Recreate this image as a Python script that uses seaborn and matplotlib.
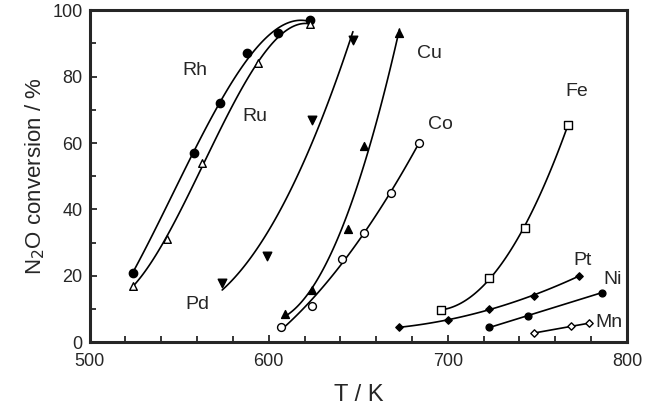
import numpy as np
import pandas as pd
import matplotlib
matplotlib.use("Agg")
import matplotlib.pyplot as plt
import seaborn as sns
from matplotlib.ticker import MultipleLocator

sns.set_style("ticks")
plt.rcParams['font.family'] = ['Liberation Sans', 'DejaVu Sans']

# data
rh_T = [524, 558, 573, 588, 605, 623]
rh_X = [21, 57, 72, 87, 93, 97]
ru_T = [524, 543, 563, 594, 623]
ru_X = [17, 31, 54, 84, 96]
pd_T = [574, 599, 624, 647]
pd_X = [18, 26, 67, 91]
cu_T = [609, 624, 644, 653, 673]
cu_X = [8.5, 15.7, 34, 59, 93]
co_T = [607, 624, 641, 653, 668, 684]
co_X = [4.5, 11, 25, 33, 45, 60]
fe_T = [696, 723, 743, 767]
fe_X = [9.6, 19.5, 34.5, 65.5]
pt_T = [673, 700, 723, 748, 773]
pt_X = [4.5, 6.8, 10, 14, 20]
ni_T = [723, 745, 786]
ni_X = [4.5, 8, 15]
mn_T = [748, 769, 779]
mn_X = [2.8, 4.8, 5.8]

series = [
    ("Rh", rh_T, rh_X, 3, "o", "black", 36),
    ("Ru", ru_T, ru_X, 3, "^", "white", 30),
    ("Pd", pd_T, pd_X, 2, "v", "black", 38),
    ("Cu", cu_T, cu_X, 2, "^", "black", 32),
    ("Co", co_T, co_X, 2, "o", "white", 32),
    ("Fe", fe_T, fe_X, 2, "s", "white", 26),
    ("Pt", pt_T, pt_X, 2, "D", "black", 14),
    ("Ni", ni_T, ni_X, 1, "o", "black", 24),
    ("Mn", mn_T, mn_X, 1, "D", "white", 14),
]

label_names = ["Rh", "Ru", "Pd", "Cu", "Co", "Fe", "Pt", "Ni", "Mn"]
label_T = [559, 592, 560, 690, 696, 772, 775, 792, 790]
label_X = [82, 68, 11.5, 87, 65.5, 75.5, 24.5, 19, 6]

fig = plt.figure(figsize=(6.45, 4.09), dpi=100)
ax = fig.add_axes([0.139, 0.163, 0.833, 0.812])

for name, T, X, order, mk, fc, s in series:
    df = pd.DataFrame({"T": T, "X": X})
    sns.regplot(data=df, x="T", y="X", order=order, ci=None, truncate=True,
                scatter=False, ax=ax, line_kws=dict(color="black", lw=1.2))
    sns.scatterplot(data=df, x="T", y="X", marker=mk, s=s, ax=ax,
                    facecolor=fc, edgecolor="black", linewidth=1.0, zorder=3)

for n, t, x in zip(label_names, label_T, label_X):
    ax.text(t, x, n, fontsize=14, ha="center", va="center")

ax.set_xlim(500, 800)
ax.set_ylim(0, 100)
ax.xaxis.set_major_locator(MultipleLocator(100))
ax.xaxis.set_minor_locator(MultipleLocator(20))
ax.yaxis.set_major_locator(MultipleLocator(20))
ax.yaxis.set_minor_locator(MultipleLocator(10))
ax.tick_params(which="both", direction="in", labelsize=13, width=1.3)
ax.tick_params(axis="x", pad=8)
ax.tick_params(axis="y", pad=5)
ax.tick_params(which="major", length=5)
ax.tick_params(which="minor", length=4)
for sp in ax.spines.values():
    sp.set_linewidth(2.2)
ax.set_xlabel("T / K", fontsize=17, labelpad=10)
ax.set_ylabel("N$_2$O conversion / %", fontsize=16, labelpad=4)

fig.savefig("out.png", dpi=100)
